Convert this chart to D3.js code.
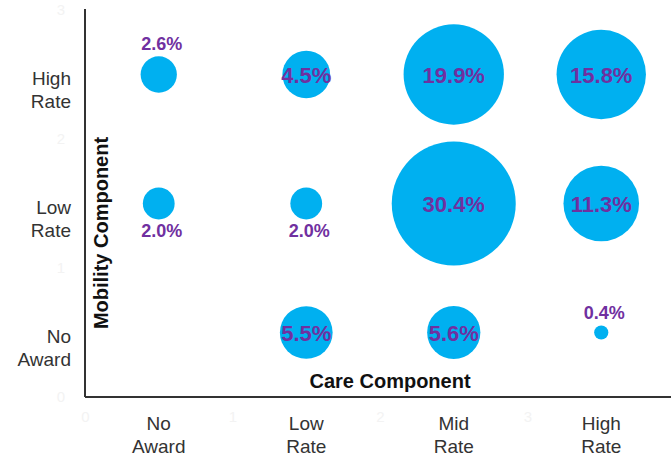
<!DOCTYPE html>
<html>
<head>
<meta charset="utf-8">
<script src="https://cdn.jsdelivr.net/npm/d3@7"></script>
<style>
  body { margin: 0; background: #fff; }
  svg { display: block; font-family: Arial, "Liberation Sans", sans-serif; }
</style>
</head>
<body>
<svg width="671" height="459"></svg>
<script>
// categories
var careLevels = ["No Award", "Low Rate", "Mid Rate", "High Rate"];
var mobilityLevels = ["No Award", "Low Rate", "High Rate"];

// share of claimants (%) per mobility row, in care order
var noAwardShare = [null, 5.5, 5.6, 0.4];
var lowRateShare = [2.0, 2.0, 30.4, 11.3];
var highRateShare = [2.6, 4.5, 19.9, 15.8];

// faint numeric ticks behind the category labels
var xTicks = [0, 1, 2, 3];
var yTicks = [0, 1, 2, 3];

var rows = [noAwardShare, lowRateShare, highRateShare];
var cells = [];
rows.forEach(function(row, j) {
    row.forEach(function(v, i) {
        if (v != null) cells.push({care: i, mobility: j, value: v});
    });
});

var svg = d3.select("svg");

var x = d3.scaleLinear().domain([0, 4]).range([85, 675]);
var y = d3.scaleLinear().domain([0, 3]).range([397, 10]);
var r = d3.scaleSqrt().domain([0, 30.4]).range([0, 62]);

// faint number ticks
svg.append("g")
    .attr("transform", "translate(0,397)")
    .call(d3.axisBottom(x).tickValues(xTicks).tickFormat(d3.format("d")).tickSize(0).tickPadding(14))
    .call(g => g.select(".domain").remove())
    .selectAll("text")
    .attr("fill", "#f3f3f3")
    .attr("font-size", "15px");

svg.append("g")
    .attr("transform", "translate(85,0)")
    .call(d3.axisLeft(y).tickValues(yTicks).tickFormat(d3.format("d")).tickSize(0).tickPadding(20))
    .call(g => g.select(".domain").remove())
    .selectAll("text")
    .attr("fill", "#f3f3f3")
    .attr("font-size", "15px");

// axis lines
svg.append("line")
    .attr("x1", x(0)).attr("x2", 671)
    .attr("y1", y(0)).attr("y2", y(0))
    .attr("stroke", "#333").attr("stroke-width", 2);
svg.append("line")
    .attr("x1", x(0)).attr("x2", x(0))
    .attr("y1", y(3) - 1).attr("y2", y(0))
    .attr("stroke", "#333").attr("stroke-width", 2);

// category labels, two lines each
var careLab = svg.append("g").selectAll("text")
    .data(careLevels)
    .join("text")
    .attr("x", (d, i) => x(i + 0.5))
    .attr("y", 430)
    .attr("text-anchor", "middle")
    .attr("font-size", "19px")
    .attr("fill", "#333");
careLab.each(function(d) {
    var words = d.split(" ");
    var t = d3.select(this);
    words.forEach(function(w, k) {
        t.append("tspan").attr("x", t.attr("x")).attr("dy", k ? 23 : 0).text(w);
    });
});

var mobLab = svg.append("g").selectAll("text")
    .data(mobilityLevels)
    .join("text")
    .attr("x", 71)
    .attr("y", (d, j) => y(j + 0.5) + 10)
    .attr("text-anchor", "end")
    .attr("font-size", "19px")
    .attr("fill", "#333");
mobLab.each(function(d) {
    var words = d.split(" ");
    var t = d3.select(this);
    words.forEach(function(w, k) {
        t.append("tspan").attr("x", 71).attr("dy", k ? 23 : 0).text(w);
    });
});

// axis titles
svg.append("text")
    .attr("x", 390).attr("y", 388)
    .attr("text-anchor", "middle")
    .attr("font-size", "20px")
    .attr("font-weight", "bold")
    .attr("fill", "#111")
    .text("Care Component");

svg.append("text")
    .attr("transform", "translate(108,233) rotate(-90)")
    .attr("text-anchor", "middle")
    .attr("font-size", "20px")
    .attr("font-weight", "bold")
    .attr("fill", "#111")
    .text("Mobility Component");

// bubbles
svg.append("g").selectAll("circle")
    .data(cells)
    .join("circle")
    .attr("cx", d => x(d.care + 0.5))
    .attr("cy", d => y(d.mobility + 0.5))
    .attr("r", d => r(d.value))
    .attr("fill", "#00B0F0");

// value labels: inside big bubbles, outside small ones
svg.append("g").selectAll("text")
    .data(cells)
    .join("text")
    .attr("x", d => x(d.care + 0.5) + (r(d.value) < 20 ? 3 : 0))
    .attr("y", function(d) {
        var cy = y(d.mobility + 0.5), rr = r(d.value);
        if (rr >= 20) return cy + 8;
        if (mobilityLevels[d.mobility] == "Low Rate") return cy + rr + 18;
        return cy - rr - 6;
    })
    .attr("text-anchor", "middle")
    .attr("font-size", d => r(d.value) < 20 ? "18px" : "22px")
    .attr("font-weight", "bold")
    .attr("fill", "#7030A0")
    .text(d => d.value.toFixed(1) + "%");
</script>
</body>
</html>
